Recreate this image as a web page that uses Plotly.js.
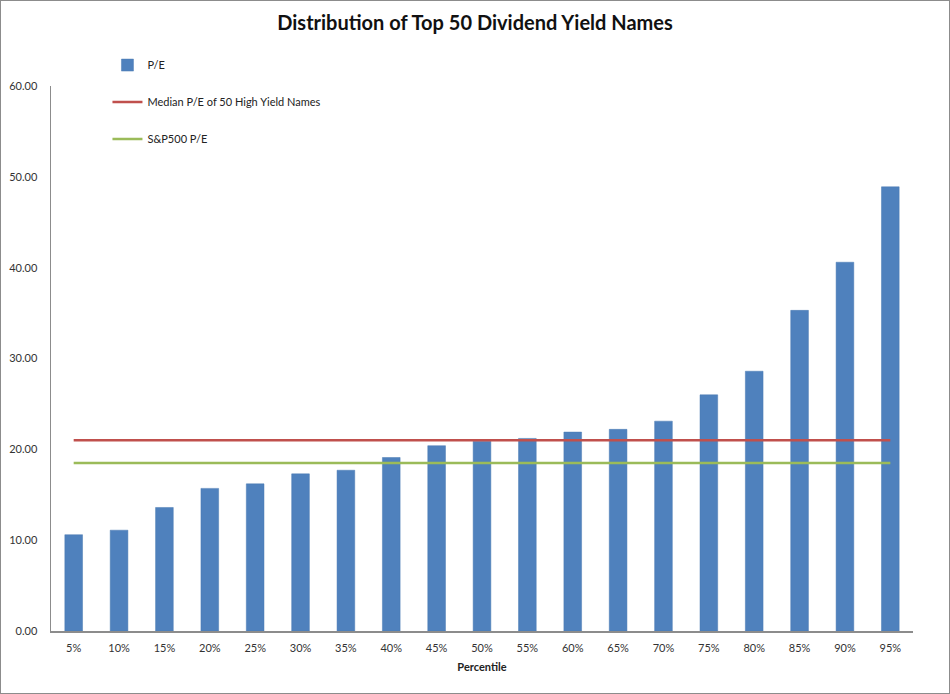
<!DOCTYPE html>
<html>
<head>
<meta charset="utf-8">
<script src="https://cdn.plot.ly/plotly-3.0.1.min.js"></script>
<style>
  html, body { margin: 0; padding: 0; background: #fff; }
  #frame { width: 948px; height: 692px; border: 1px solid #8c8c8c; }
  #chart { width: 948px; height: 692px; }
</style>
</head>
<body>
<div id="frame"><div id="chart"></div></div>
<script>
const percentiles = ["5%","10%","15%","20%","25%","30%","35%","40%","45%","50%",
                     "55%","60%","65%","70%","75%","80%","85%","90%","95%"];
const peValues = [10.6, 11.1, 13.6, 15.7, 16.2, 17.3, 17.7, 19.1, 20.4, 20.9,
                  21.2, 21.9, 22.2, 23.1, 26.0, 28.6, 35.3, 40.6, 48.9];
const medianPE = 21.0;
const sp500PE = 18.5;
const yTicks = [0, 10, 20, 30, 40, 50, 60];

const FONT = "Lato, 'Open Sans', sans-serif";

const traces = [
  {
    type: "bar", name: "P/E", x: percentiles, y: peValues,
    marker: { color: "#4f81bd", line: { color: "#4a7ab3", width: 0.5 } },
    legendgroup: "a", hoverinfo: "x+y"
  },
  {
    type: "scatter", mode: "lines", name: "Median P/E of 50 High Yield Names",
    x: percentiles, y: percentiles.map(() => medianPE),
    line: { color: "#c0504d", width: 2.5 }, legendgroup: "b"
  },
  {
    type: "scatter", mode: "lines", name: "S&P500 P/E",
    x: percentiles, y: percentiles.map(() => sp500PE),
    line: { color: "#9bbb59", width: 2.5 }, legendgroup: "c"
  }
];

const layout = {
  width: 948, height: 692,
  margin: { l: 50, r: 36, t: 85, b: 62 },
  paper_bgcolor: "#ffffff", plot_bgcolor: "#ffffff",
  font: { family: FONT, size: 11, color: "#333" },
  title: {
    text: "<b>Distribution of Top 50 Dividend Yield Names</b>",
    font: { family: FONT, size: 20, color: "#111" },
    x: 0.5, xanchor: "center", y: 0.968, yanchor: "middle"
  },
  bargap: 0.61,
  showlegend: true,
  legend: {
    x: 0.0655, y: 1.065, xanchor: "left", yanchor: "top",
    traceorder: "grouped", tracegroupgap: 18,
    font: { family: FONT, size: 11, color: "#222" },
    bgcolor: "rgba(0,0,0,0)", itemwidth: 30
  },
  xaxis: {
    type: "category",
    showline: true, linecolor: "#8c8c8c", linewidth: 1.5,
    showgrid: false, zeroline: false,
    ticks: "", ticklabelstandoff: 6,
    tickfont: { family: FONT, size: 11, color: "#333" },
    title: { text: "<b>Percentile</b>", font: { family: FONT, size: 11, color: "#222" }, standoff: 10 }
  },
  yaxis: {
    range: [0, 60], tickvals: yTicks, tickformat: ".2f",
    showline: true, linecolor: "#8c8c8c", linewidth: 1.5,
    showgrid: false, zeroline: false,
    ticks: "", ticklabelstandoff: 10,
    tickfont: { family: FONT, size: 11, color: "#333" }
  }
};

Plotly.newPlot("chart", traces, layout, { displayModeBar: false, staticPlot: true });
</script>
</body>
</html>
